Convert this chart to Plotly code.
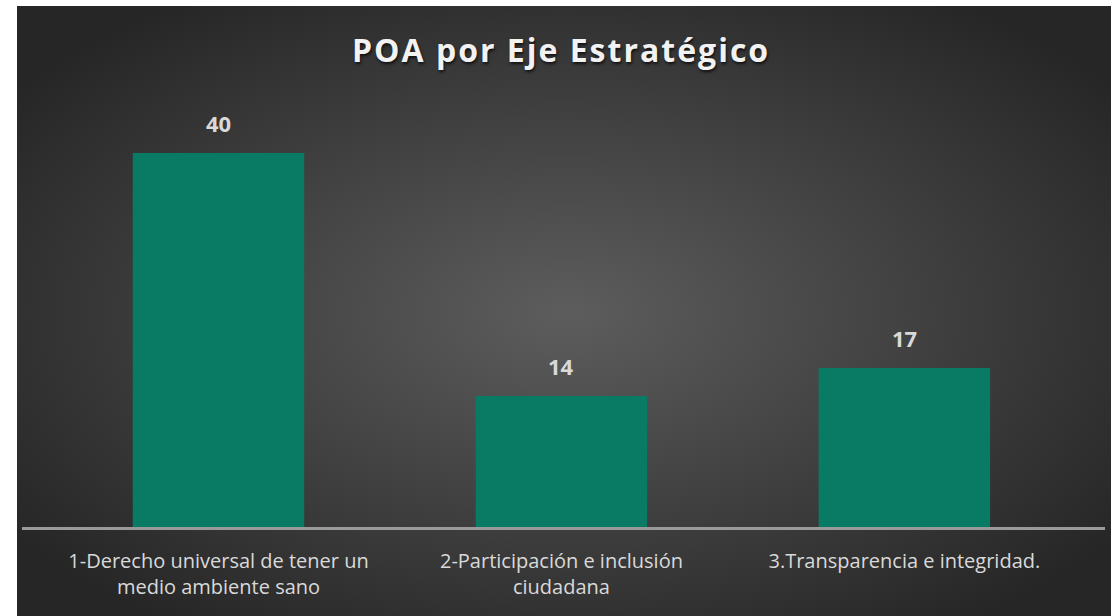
import base64
import plotly.graph_objects as go

# datos del gráfico
ejes = ['1-Derecho universal de tener un<br>medio ambiente sano',
        '2-Participación e inclusión<br>ciudadana',
        '3.Transparencia e integridad.']
poa = [40, 14, 17]
titulo = 'POA por Eje Estratégico'

# fondo con degradado radial (como el estilo de Excel)
svg = '''<svg xmlns="http://www.w3.org/2000/svg" width="1100" height="620" preserveAspectRatio="none">
<defs><radialGradient id="g" cx="50%" cy="50%" r="62%">
<stop offset="0%" stop-color="#5d5d5d"/>
<stop offset="100%" stop-color="#262626"/>
</radialGradient></defs>
<rect width="1100" height="620" fill="url(#g)"/></svg>'''
fondo = 'data:image/svg+xml;base64,' + base64.b64encode(svg.encode()).decode()

fig = go.Figure()
fig.add_trace(go.Bar(x=ejes, y=poa, marker=dict(color='#097b65', line=dict(width=0)),
                     hoverinfo='x+y'))

# etiquetas de valores sobre las barras
for e, v in zip(ejes, poa):
    fig.add_annotation(x=e, y=v, text=f'<b>{v}</b>', showarrow=False,
                       yanchor='bottom', yshift=13,
                       font=dict(family='Open Sans', size=22, color='#d9d9d9'))

fig.update_layout(
    width=1111, height=616,
    paper_bgcolor='white', plot_bgcolor='rgba(0,0,0,0)',
    margin=dict(l=22, r=6, t=100, b=89),
    bargap=0.5,
    showlegend=False,
    title=dict(text=titulo, x=0.505, xanchor='center', y=0.918, yanchor='middle',
               font=dict(family='Open Sans', size=32, color='#f2f2f2', weight='bold',
                         shadow='1px 2px 3px rgba(0,0,0,0.7)')),
    images=[dict(source=fondo, xref='paper', yref='paper',
                 x=-0.00462, y=1.2201, sizex=1.016, sizey=1.44,
                 xanchor='left', yanchor='top', sizing='stretch', layer='below')],
)
fig.update_xaxes(range=[-0.573, 2.585], showline=True, linecolor='#9a9a9a', linewidth=3,
                 showgrid=False, ticks='', ticklabelstandoff=14,
                 tickfont=dict(family='Open Sans', size=20, color='#d9d9d9'))
fig.update_yaxes(range=[0, 45.67], visible=False, showgrid=False, zeroline=False)

# sin margen en la página y título espaciado
js = ("document.body.style.margin='0';"
      "var s=document.createElement('style');"
      "s.textContent='.gtitle{letter-spacing:2px}';"
      "document.head.appendChild(s);")
fig.write_html('out.html', post_script=js, config={'displayModeBar': False})
